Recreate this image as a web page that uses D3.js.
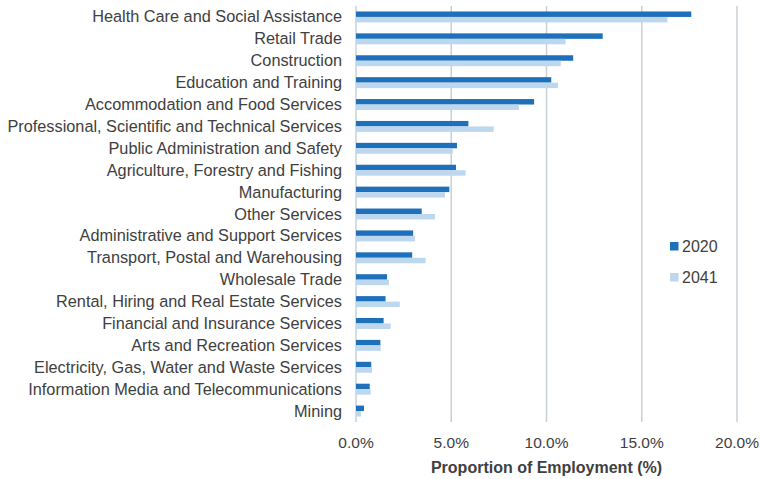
<!DOCTYPE html>
<html>
<head>
<meta charset="utf-8">
<script src="https://cdn.jsdelivr.net/npm/d3@7/dist/d3.min.js"></script>
<style>
  html, body { margin: 0; padding: 0; background: #ffffff; }
  svg { display: block; font-family: "Liberation Sans", Arial, Helvetica, sans-serif; }
</style>
</head>
<body>
<svg id="chart" width="760" height="479"></svg>
<script>
// Industries, largest employer first
const industries = [
  "Health Care and Social Assistance",
  "Retail Trade",
  "Construction",
  "Education and Training",
  "Accommodation and Food Services",
  "Professional, Scientific and Technical Services",
  "Public Administration and Safety",
  "Agriculture, Forestry and Fishing",
  "Manufacturing",
  "Other Services",
  "Administrative and Support Services",
  "Transport, Postal and Warehousing",
  "Wholesale Trade",
  "Rental, Hiring and Real Estate Services",
  "Financial and Insurance Services",
  "Arts and Recreation Services",
  "Electricity, Gas, Water and Waste Services",
  "Information Media and Telecommunications",
  "Mining"
];

// Share of employment (%)
const share2020 = [17.6, 12.95, 11.4, 10.25, 9.35, 5.9, 5.3, 5.25, 4.9, 3.45, 3.0, 2.95, 1.63, 1.55, 1.45, 1.28, 0.8, 0.72, 0.42];
const share2041 = [16.35, 11.0, 10.75, 10.6, 8.55, 7.23, 5.08, 5.75, 4.67, 4.15, 3.1, 3.65, 1.73, 2.3, 1.82, 1.3, 0.84, 0.77, 0.26];

const seriesNames = ["2020", "2041"];
const xTicks = [0, 5, 10, 15, 20];

const colors = { "2020": "#1f70bb", "2041": "#bdd7ee" };
const textColor = "#404040";
const gridColor = "#c8d0d5";

const svg = d3.select("#chart");

const x = d3.scaleLinear().domain([0, 20]).range([356, 737]);
const y = d3.scaleBand().domain(industries).range([6, 422]).paddingInner(0.5).paddingOuter(0.25);
const sub = d3.scaleBand().domain(seriesNames).range([0, y.bandwidth()]);

// Vertical gridlines
svg.append("g")
  .selectAll("line")
  .data(xTicks)
  .join("line")
  .attr("x1", d => x(d)).attr("x2", d => x(d))
  .attr("y1", 6).attr("y2", 422)
  .attr("stroke", gridColor)
  .attr("stroke-width", 1.5);

// Bars
const rows = industries.map((name, i) => ({ name, values: [share2020[i], share2041[i]] }));
const rowG = svg.append("g")
  .selectAll("g")
  .data(rows)
  .join("g")
  .attr("transform", d => `translate(0,${y(d.name)})`);

rowG.selectAll("rect")
  .data(d => seriesNames.map((s, j) => ({ s, v: d.values[j] })))
  .join("rect")
  .attr("x", x(0))
  .attr("y", d => sub(d.s))
  .attr("width", d => x(d.v) - x(0))
  .attr("height", sub.bandwidth())
  .attr("fill", d => colors[d.s]);

// Category labels
svg.append("g")
  .selectAll("text")
  .data(industries)
  .join("text")
  .attr("x", 342)
  .attr("y", d => y(d) + y.bandwidth() / 2)
  .attr("dy", "0.34em")
  .attr("text-anchor", "end")
  .attr("font-size", 16.3)
  .attr("fill", textColor)
  .text(d => d);

// X axis tick labels
svg.append("g")
  .selectAll("text")
  .data(xTicks)
  .join("text")
  .attr("x", d => x(d))
  .attr("y", 448)
  .attr("text-anchor", "middle")
  .attr("font-size", 15.5)
  .attr("fill", textColor)
  .text(d => d3.format(".1f")(d) + "%");

// Axis title
svg.append("text")
  .attr("x", x(10))
  .attr("y", 472.5)
  .attr("text-anchor", "middle")
  .attr("font-size", 16)
  .attr("font-weight", "bold")
  .attr("fill", textColor)
  .text("Proportion of Employment (%)");

// Legend
const legend = svg.append("g")
  .selectAll("g")
  .data(seriesNames)
  .join("g")
  .attr("transform", (d, i) => `translate(670,${242 + i * 31})`);

legend.append("rect")
  .attr("width", 8.5).attr("height", 8.5)
  .attr("fill", d => colors[d]);

legend.append("text")
  .attr("x", 12)
  .attr("y", 4.5)
  .attr("dy", "0.36em")
  .attr("font-size", 16)
  .attr("fill", textColor)
  .text(d => d);
</script>
</body>
</html>
